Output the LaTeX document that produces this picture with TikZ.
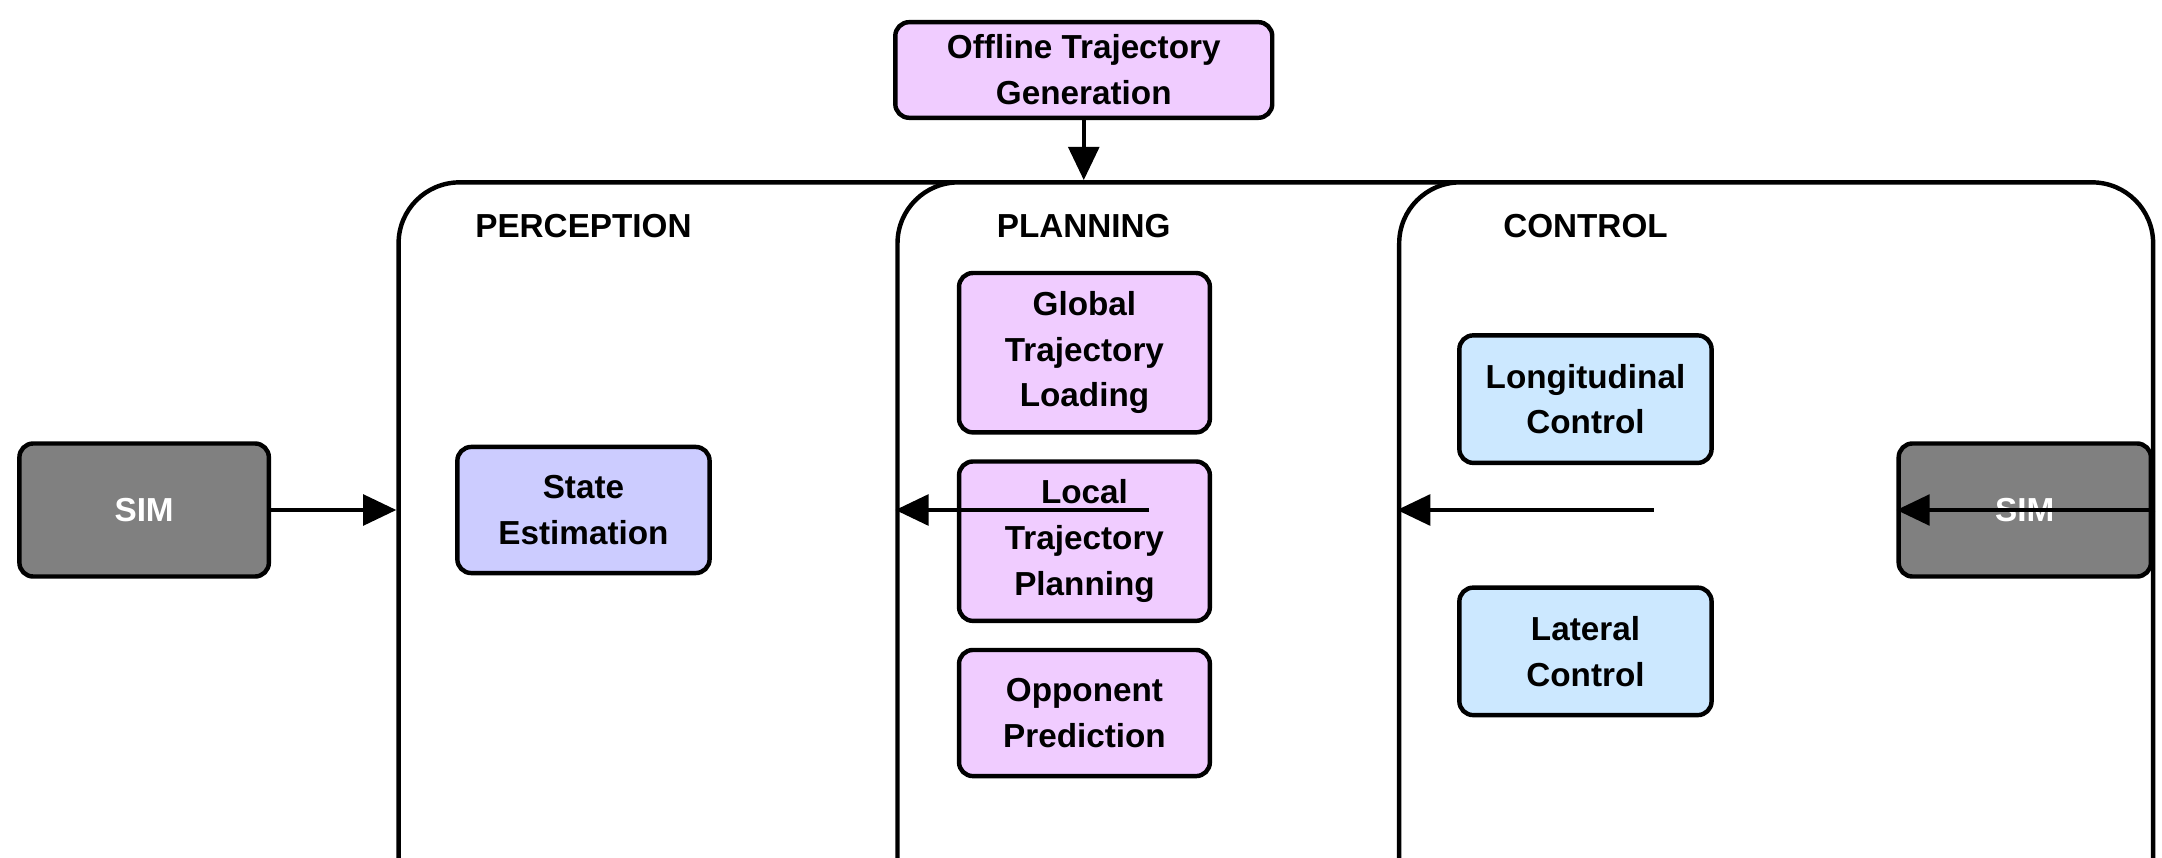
\documentclass[tikz,border=0pt]{standalone}
\usepackage{fontspec}
\setmainfont{Liberation Sans}
\usetikzlibrary{arrows.meta}
\definecolor{simg}{HTML}{808080}
\definecolor{pur}{HTML}{F0CCFF}
\definecolor{lav}{HTML}{CCCCFF}
\definecolor{blu}{HTML}{CCE8FF}
\begin{document}
\begin{tikzpicture}[x=0.5pt,y=-0.5pt,
  box/.style={draw,line width=1.6pt,rounded corners=5pt,font=\bfseries\fontsize{12}{16.5}\selectfont,align=center,inner sep=0pt},
  grp/.style={draw,line width=1.6pt,rounded corners=22pt,fill=white},
  arr/.style={line width=1.6pt,-{Triangle[length=12pt,width=11pt]}},
  ttl/.style={font=\bfseries\fontsize{12}{14}\selectfont}]
\useasboundingbox (0,0) rectangle (1560,619);
\node[grp,minimum width=270,minimum height=475,anchor=north west] (per) at (286,130) {};
\node[grp,minimum width=272,minimum height=475,anchor=north west] (pla) at (646,130) {};
\node[grp,minimum width=272,minimum height=475,anchor=north west] (con) at (1008,130) {};
\node[ttl] at (421,163) {PERCEPTION};
\node[ttl] at (782,163) {PLANNING};
\node[ttl] at (1144,163) {CONTROL};
\node[box,fill=simg,text=white,minimum width=90pt,minimum height=48pt] (s1) at (104,368) {SIM};
\node[box,fill=simg,text=white,minimum width=91pt,minimum height=48pt] (s2) at (1461,368) {SIM};
\node[box,fill=lav,minimum width=91pt,minimum height=45.5pt] (se) at (421,368) {State\\Estimation};
\node[box,fill=pur,minimum width=136pt,minimum height=34.5pt] (off) at (782,50.5) {Offline Trajectory\\Generation};
\node[box,fill=pur,minimum width=90.5pt,minimum height=57.5pt] (gl) at (782.5,254.5) {Global\\Trajectory\\Loading};
\node[box,fill=pur,minimum width=90.5pt,minimum height=57.5pt] (lo) at (782.5,390.5) {Local\\Trajectory\\Planning};
\node[box,fill=pur,minimum width=90.5pt,minimum height=45.5pt] (op) at (782.5,514.5) {Opponent\\Prediction};
\node[box,fill=blu,minimum width=91pt,minimum height=46pt] (lon) at (1144,288) {Longitudinal\\Control};
\node[box,fill=blu,minimum width=91pt,minimum height=46pt] (lat) at (1144,470) {Lateral\\Control};
\draw[arr] (s1.east) -- (s1.east -| per.west);
\draw[arr] (per.east |- se) -- (pla.west |- se);
\draw[arr] (pla.east |- se) -- (con.west |- se);
\draw[arr] (con.east |- s2) -- (s2.west);
\draw[arr] (off.south) -- (pla.north -| off.south);
\end{tikzpicture}
\end{document}
